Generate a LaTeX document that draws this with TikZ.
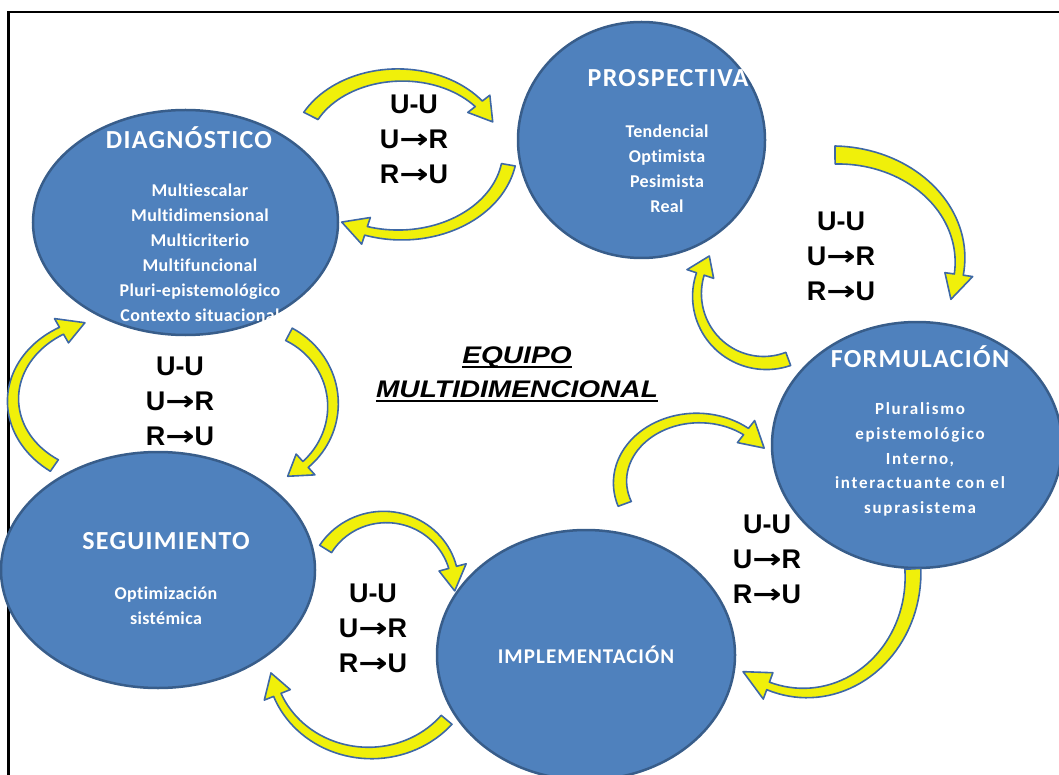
\documentclass[tikz,border=0pt]{standalone}
\usepackage{fontspec}
\usepackage{graphicx}
\setmainfont{Carlito}
\newfontfamily\titlefont{Carlito}[LetterSpace=5]
\newfontfamily\itemfont{Carlito}[LetterSpace=2,Ligatures=NoCommon]
\newfontfamily\wideitemfont{Carlito}[LetterSpace=10,Ligatures=NoCommon]
\newfontfamily\relfont{Liberation Sans}
\newfontfamily\arrowfont{DejaVu Sans}
\newfontfamily\teamfont{Liberation Sans}[FakeStretch=1.17]
\usetikzlibrary{shapes.geometric}

\definecolor{ellfill}{RGB}{79,129,189}
\definecolor{ellline}{RGB}{56,93,138}
\definecolor{arrfill}{RGB}{240,240,10}
\definecolor{arrline}{RGB}{62,104,165}

% wide arrow glyph used in the relation labels
\newcommand\relto{\scalebox{1.3}[1]{\arrowfont\bfseries →}}

\newcommand\headw{28}
% curved block arrow along an elliptic arc:
% #1,#2 centre, #3,#4 radii, #5 tail angle, #6 head-base angle, #7 tip angle,
% #8 tail width, #9 neck width
\newcommand\bentarrow[9]{%
  \filldraw[arrowbody]
    plot[variable=\p,domain=0:1,samples=40]
      ({#1+(#3+(#8+(#9-#8)*\p)/2)*cos(#5+(#6-#5)*\p)},{#2+(#4+(#8+(#9-#8)*\p)/2)*sin(#5+(#6-#5)*\p)})
    -- ({#1+(#3+\headw/2)*cos(#6)},{#2+(#4+\headw/2)*sin(#6)})
    -- ({#1+#3*cos(#7)},{#2+#4*sin(#7)})
    -- ({#1+(#3-\headw/2)*cos(#6)},{#2+(#4-\headw/2)*sin(#6)})
    -- plot[variable=\p,domain=1:0,samples=40]
      ({#1+(#3-(#8+(#9-#8)*\p)/2)*cos(#5+(#6-#5)*\p)},{#2+(#4-(#8+(#9-#8)*\p)/2)*sin(#5+(#6-#5)*\p)})
    -- cycle;}

\tikzset{
  phase/.style={ellipse, draw=ellline, fill=ellfill, line width=2.5pt, inner sep=0pt},
  phasetitle/.style={text=white, inner sep=0pt, font=\titlefont\bfseries\fontsize{26}{30}\selectfont},
  phaseitems/.style={text=white, align=center, inner sep=0pt, font=\itemfont\bfseries\fontsize{18}{25}\selectfont},
  relations/.style={align=center, inner sep=0pt, font=\relfont\bfseries\fontsize{27}{35}\selectfont},
  team/.style={inner sep=0pt, font=\teamfont\bfseries\itshape\fontsize{24}{28}\selectfont},
  arrowbody/.style={fill=arrfill, draw=arrline, line width=1.6pt, line join=round},
}

\begin{document}
\begin{tikzpicture}[x=1pt,y=-1pt]
\useasboundingbox (0,0) rectangle (1059,775);
\clip (0,0) rectangle (1059,775);

% frame
\draw[line width=2.5pt] (8.5,780) -- (8.5,12) -- (1065,12);

% phases
\node[phase, minimum width=305pt, minimum height=225pt] (diag)  at (185.5,222.5) {};
\node[phase, minimum width=247pt, minimum height=236pt] (prosp) at (641.5,140) {};
\node[phase, minimum width=290pt, minimum height=246pt] (form)  at (917,445) {};
\node[phase, minimum width=314pt, minimum height=236pt] (seg)   at (158,570) {};
\node[phase, minimum width=298pt, minimum height=250pt] (impl)  at (586,655) {};

\node[phasetitle] (diagT) at (189,138) {DIAGNÓSTICO};
\node[phaseitems] (diagI) at (200,252.5) {Multiescalar\\Multidimensional\\Multicriterio\\Multifuncional\\Pluri-epistemológico\\Contexto situacional};

\node[phasetitle] (prospT) at (668,78) {PROSPECTIVA};
\node[phaseitems] (prospI) at (667,168.5) {Tendencial\\Optimista\\Pesimista\\Real};

\node[phasetitle] (formT) at (920,357) {FORMULACIÓN};
\node[phaseitems, font=\wideitemfont\bfseries\fontsize{17}{24.75}\selectfont] (formI) at (920,459.5) {Pluralismo\\epistemológico\\Interno,\\interactuante con el\\suprasistema};

\node[phasetitle] (segT) at (166,541) {SEGUIMIENTO};
\node[phaseitems] (segI) at (166,606) {Optimización\\sistémica};

\node[phasetitle, font=\titlefont\bfseries\fontsize{21}{25}\selectfont] (implT) at (586,655) {IMPLEMENTACIÓN};

% centre label
\node[team] (eq1) at (517,357) {EQUIPO};
\node[team] (eq2) at (517,389) {MULTIDIMENCIONAL};
\draw[line width=2pt] ([yshift=-3.5pt]eq1.base west) -- ([yshift=-3.5pt]eq1.base east);
\draw[line width=2pt] ([yshift=-3.5pt]eq2.base west) -- ([yshift=-3.5pt]eq2.base east);

% relation labels
\node[relations] (r1) at (414,139) {U-U\\U\relto R\\R\relto U};
\node[relations] (r2) at (841,256) {U-U\\U\relto R\\R\relto U};
\node[relations] (r3) at (180,401) {U-U\\U\relto R\\R\relto U};
\node[relations] (r4) at (767,559) {U-U\\U\relto R\\R\relto U};
\node[relations] (r5) at (373,628) {U-U\\U\relto R\\R\relto U};

% curved arrows between phases
\bentarrow{400}{150}{100}{75}{207}{322}{338}{16}{9}
\bentarrow{400}{150}{110}{85}{10}{108}{122}{14}{9}
\bentarrow{835}{260}{125}{105}{270}{368}{382}{18}{9}
\bentarrow{765}{295}{68}{68}{70}{198}{215}{14}{8}
\bentarrow{110}{400}{97}{80}{125}{240}{255}{14}{8}
\bentarrow{250}{405}{83}{80}{298}{408}{423}{14}{8}
\bentarrow{385}{585}{70}{68}{212}{345}{365}{14}{8}
\bentarrow{370}{660}{100}{93}{40}{158}{172}{14}{8}
\bentarrow{698}{482}{78}{64}{160}{308}{328}{14}{8}
\bentarrow{805}{575}{108}{118}{357}{470}{485}{16}{8}
\end{tikzpicture}
\end{document}
